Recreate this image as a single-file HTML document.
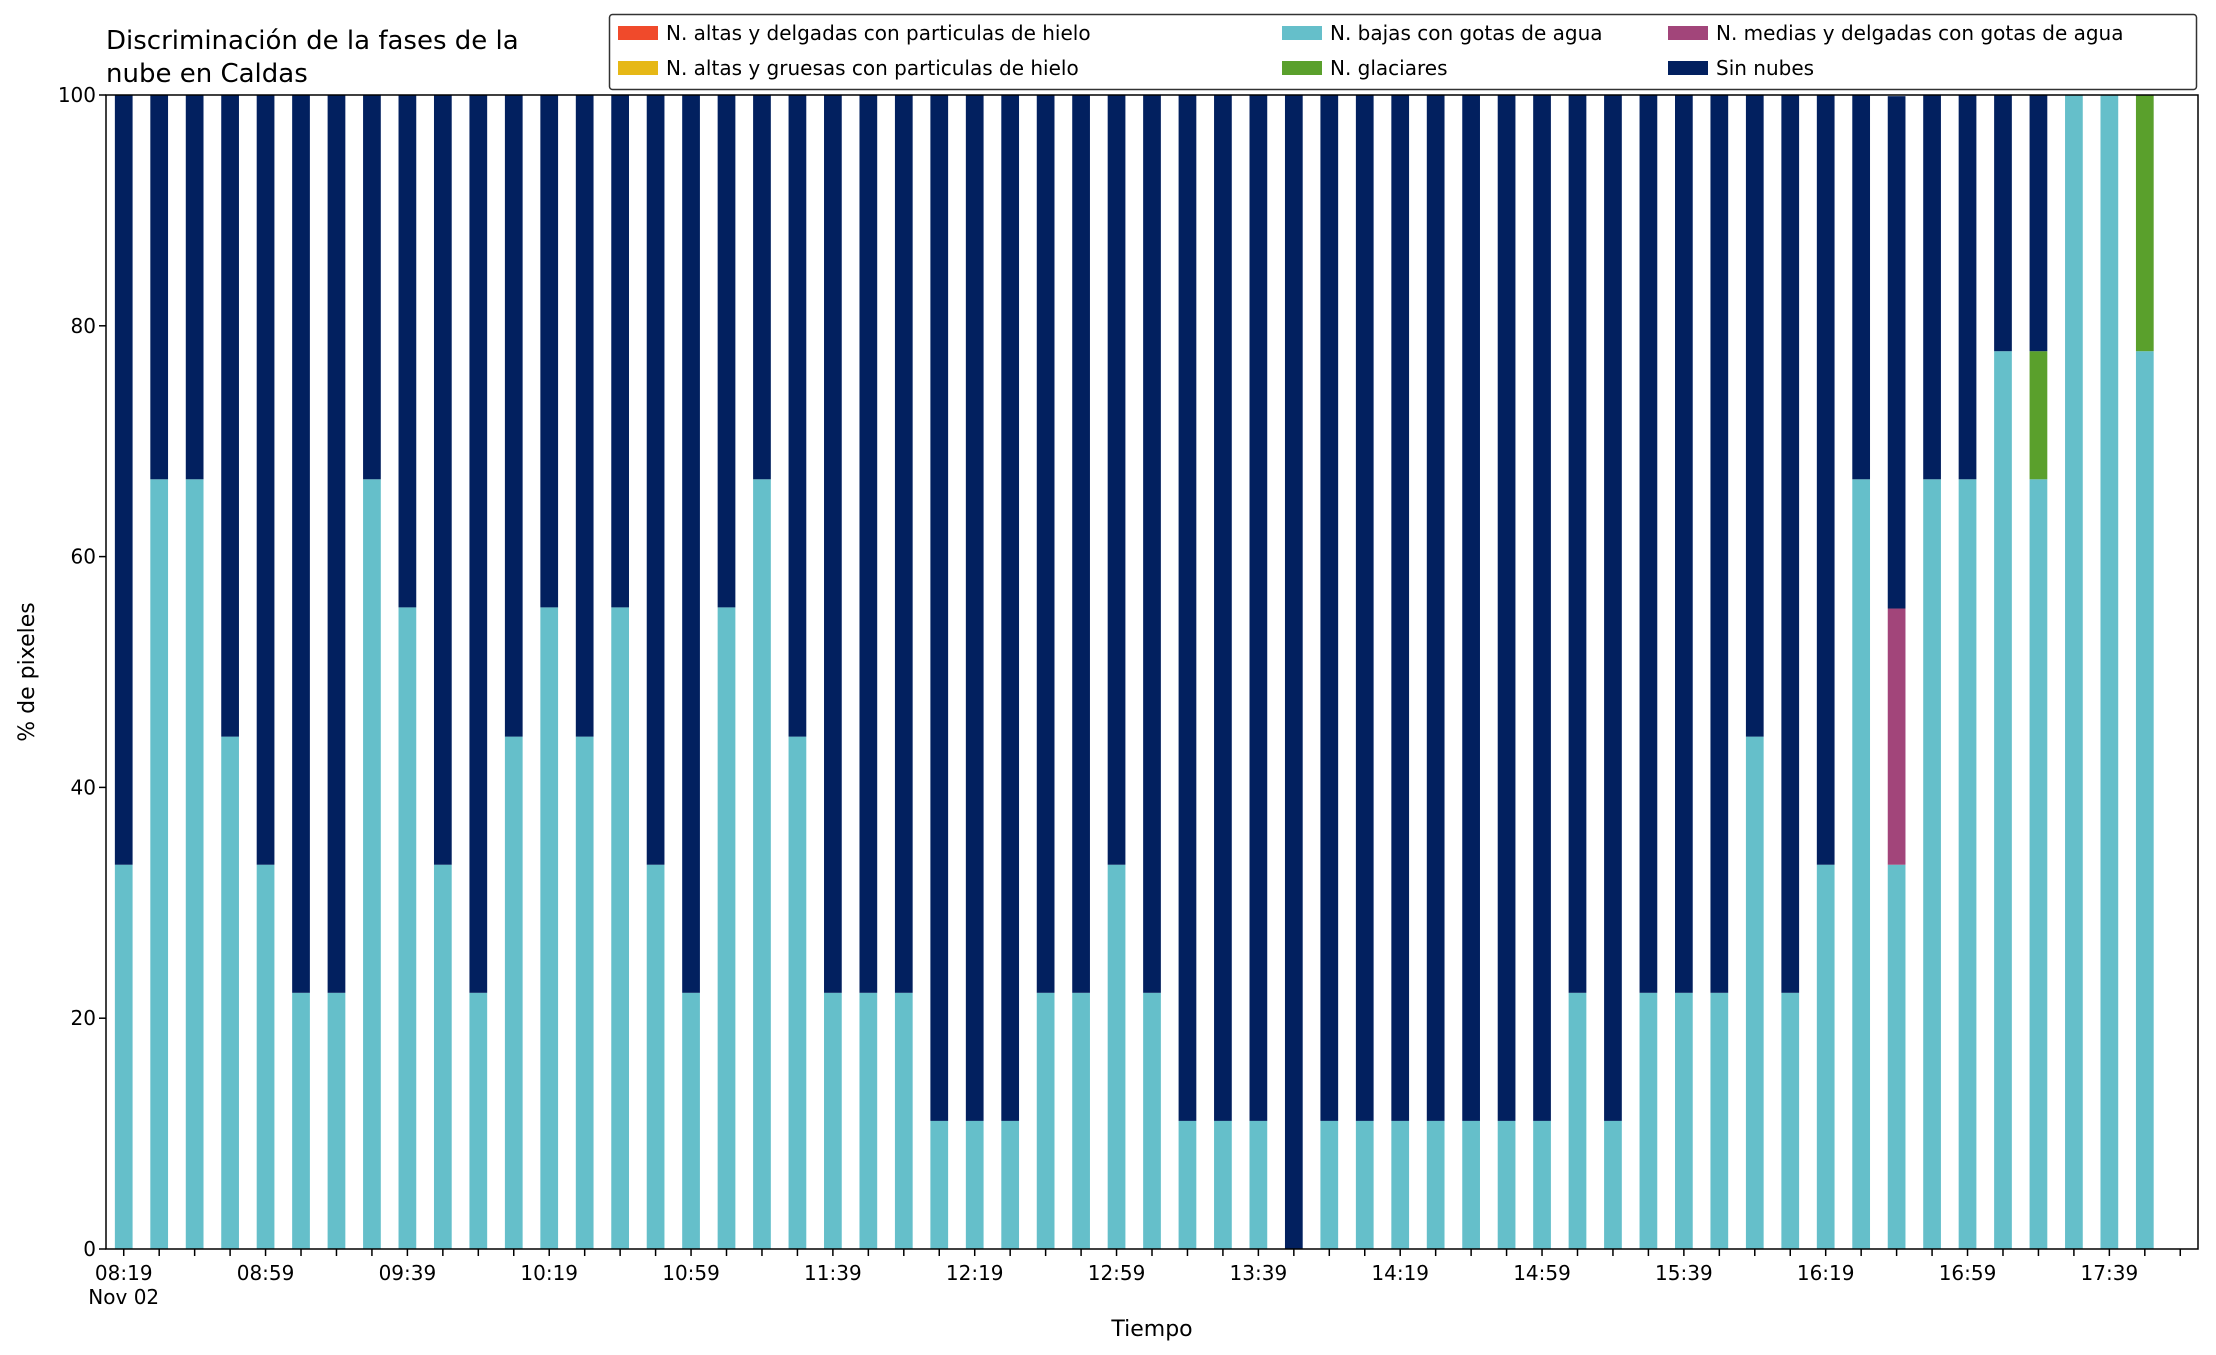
<!DOCTYPE html>
<html><head><meta charset="utf-8"><style>
body{margin:0;background:#fff}
svg{display:block;font-family:"DejaVu Sans","Liberation Sans",sans-serif}
</style></head><body>
<svg id="chart" width="2216" height="1355" viewBox="0 0 2216 1355">
<text x="106" y="49" font-size="26" fill="#000">Discriminación de la fases de la</text>
<text x="106" y="82" font-size="26" fill="#000">nube en Caldas</text>
<g id="bars"></g>
<g id="axes"></g>
<text x="1152" y="1336" font-size="22" text-anchor="middle">Tiempo</text>
<text transform="translate(34,672) rotate(-90)" font-size="22" text-anchor="middle">% de pixeles</text>
<g>
<rect x="609.5" y="14.5" width="1587" height="75" rx="3" fill="#fff" stroke="#333" stroke-width="1.5"/>
<g><rect x="618" y="26" width="40" height="14" fill="#f04a2b"/><text x="666" y="40" font-size="20">N. altas y delgadas con particulas de hielo</text></g>
<g><rect x="618" y="61" width="40" height="14" fill="#e6b816"/><text x="666" y="75" font-size="20">N. altas y gruesas con particulas de hielo</text></g>
<g><rect x="1282" y="26" width="40" height="14" fill="#65bfca"/><text x="1330" y="40" font-size="20">N. bajas con gotas de agua</text></g>
<g><rect x="1282" y="61" width="40" height="14" fill="#5aa02c"/><text x="1330" y="75" font-size="20">N. glaciares</text></g>
<g><rect x="1668" y="26" width="40" height="14" fill="#a2457a"/><text x="1716" y="40" font-size="20">N. medias y delgadas con gotas de agua</text></g>
<g><rect x="1668" y="61" width="40" height="14" fill="#02205f"/><text x="1716" y="75" font-size="20">Sin nubes</text></g>
</g>
</svg>
<script>
const times = [];
for (let i = 0; i < 59; i++) { const m = 8*60+19+i*10; times.push(String(Math.floor(m/60)).padStart(2,'0')+':'+String(m%60).padStart(2,'0')); }
const altasDelgadas = new Array(59).fill(0);
const altasGruesas = new Array(59).fill(0);
const bajas = [33.3,66.7,66.7,44.4,33.3,22.2,22.2,66.7,55.6,33.3,22.2,44.4,55.6,44.4,55.6,33.3,22.2,55.6,66.7,44.4,22.2,22.2,22.2,11.1,11.1,11.1,22.2,22.2,33.3,22.2,11.1,11.1,11.1,0,11.1,11.1,11.1,11.1,11.1,11.1,11.1,22.2,11.1,22.2,22.2,22.2,44.4,22.2,33.3,66.7,33.3,66.7,66.7,77.8,66.7,100,100,77.8,0];
const glaciares = [0,0,0,0,0,0,0,0,0,0,0,0,0,0,0,0,0,0,0,0,0,0,0,0,0,0,0,0,0,0,0,0,0,0,0,0,0,0,0,0,0,0,0,0,0,0,0,0,0,0,0,0,0,0,11.1,0,0,22.2,0];
const medias = [0,0,0,0,0,0,0,0,0,0,0,0,0,0,0,0,0,0,0,0,0,0,0,0,0,0,0,0,0,0,0,0,0,0,0,0,0,0,0,0,0,0,0,0,0,0,0,0,0,0,22.2,0,0,0,0,0,0,0,0];
const sinNubes = [66.7,33.3,33.3,55.6,66.7,77.8,77.8,33.3,44.4,66.7,77.8,55.6,44.4,55.6,44.4,66.7,77.8,44.4,33.3,55.6,77.8,77.8,77.8,88.9,88.9,88.9,77.8,77.8,66.7,77.8,88.9,88.9,88.9,100,88.9,88.9,88.9,88.9,88.9,88.9,88.9,77.8,88.9,77.8,77.8,77.8,55.6,77.8,66.7,33.3,44.4,33.3,33.3,22.2,22.2,0,0,0,0];
const yTicks = [0,20,40,60,80,100];
const seriesList = [
 {name:'altas-delgadas',data:altasDelgadas,color:'#f04a2b'},
 {name:'altas-gruesas',data:altasGruesas,color:'#e6b816'},
 {name:'bajas',data:bajas,color:'#65bfca'},
 {name:'glaciares',data:glaciares,color:'#5aa02c'},
 {name:'medias',data:medias,color:'#a2457a'},
 {name:'sin-nubes',data:sinNubes,color:'#02205f'}];
const L=106,R=2198,T=95,B=1249,n=times.length;
const xs = i => L + (i+0.5)*(R-L)/n;
const ys = v => B - v/100*(B-T);
const bw = 0.5*(R-L)/n;
const NS='http://www.w3.org/2000/svg';
const gb=document.getElementById('bars'), ga=document.getElementById('axes');
function mk(tag,attrs,parent){const e=document.createElementNS(NS,tag);for(const k in attrs)e.setAttribute(k,attrs[k]);parent.appendChild(e);return e;}
for(let i=0;i<n;i++){
 let base=0;
 for(const s of seriesList){
  const v=s.data[i]; if(!v){continue;}
  const r=mk('rect',{x:xs(i)-bw/2,y:ys(base+v),width:bw,height:ys(base)-ys(base+v),fill:s.color},gb);
  
  
  base+=v;
 }
}
for(const t of yTicks){
 mk('line',{x1:L-7,x2:L,y1:ys(t),y2:ys(t),stroke:'#000','stroke-width':1.5},ga);
 const tx=mk('text',{x:L-10,y:ys(t)+7,'font-size':20,'text-anchor':'end'},ga);
 tx.textContent=t;
 
 
}
for(let i=0;i<n;i++){
 mk('line',{x1:xs(i),x2:xs(i),y1:B,y2:B+7,stroke:'#000','stroke-width':1.5},ga);
 if(i%4===0){
  const tx=mk('text',{x:xs(i),y:B+31,'font-size':20,'text-anchor':'middle'},ga);
  tx.textContent=times[i];
  
  
 }
}
const d=mk('text',{x:xs(0),y:B+55,'font-size':20,'text-anchor':'middle'},ga);
d.textContent='Nov 02';


const fr=mk('rect',{x:L,y:T,width:R-L,height:B-T,fill:'none',stroke:'#000','stroke-width':1.5},ga);


</script>
</body></html>
